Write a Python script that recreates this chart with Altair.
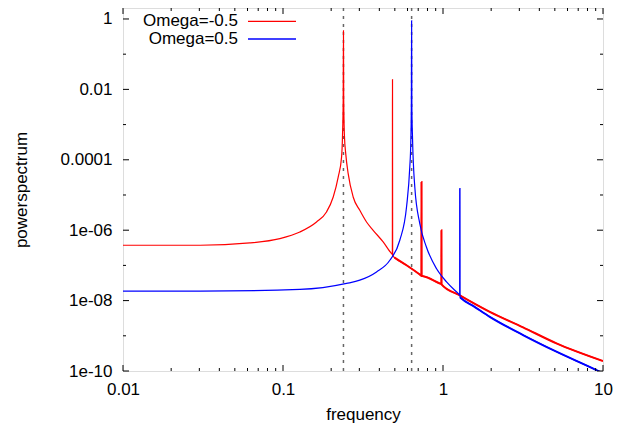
import math
import altair as alt
import pandas as pd

# ---- data ----
red_name = "Omega=-0.5"
blue_name = "Omega=0.5"

red_freq = [0.01, 0.0303, 0.0621, 0.0956, 0.1275, 0.162, 0.187, 0.206, 0.2213, 0.2323,
            0.2355, 0.2378, 0.2387, 0.2396, 0.242, 0.247, 0.2555, 0.2745, 0.302, 0.3327,
            0.366, 0.4226, 0.4768, 0.4825, 0.4835, 0.4845, 0.4976, 0.5916, 0.716, 0.733,
            0.734, 0.735, 0.751, 0.955, 0.977, 0.978, 0.979, 1.274, 1.96, 3.164, 5.117, 10.0]
red_power = [3.73e-7, 3.73e-7, 4.34e-7, 5.78e-7, 8.9e-7, 1.71e-6, 3.29e-6, 8.75e-6, 3.23e-5, 1.19e-4,
             5e-4, 5e-3, 0.466, 5e-3, 5e-4, 1.4e-4, 4.03e-5, 8.75e-6, 3.67e-6, 1.71e-6,
             9.95e-7, 4.63e-7, 2.17e-7, 2.05e-7, 0.019, 1.9e-7, 1.67e-7, 1.01e-7, 5.52e-8, 5.1e-8,
             2.33e-5, 5.0e-8, 4.94e-8, 3.07e-8, 2.95e-8, 9.95e-7, 2.9e-8, 1.41e-8, 4.8e-9, 1.74e-9, 6.1e-10, 1.92e-10]

blue_freq = [0.01, 0.0303, 0.1275, 0.2495, 0.302, 0.3842, 0.4653, 0.537, 0.5916, 0.62,
             0.629, 0.634, 0.6366, 0.639, 0.645, 0.6664, 0.716, 0.7874, 0.9095, 1.052,
             1.243, 1.271, 1.272, 1.277, 1.279, 1.305, 1.55, 1.96, 3.164, 5.117, 9.095, 10.0]
blue_power = [1.85e-8, 1.86e-8, 2.07e-8, 3.07e-8, 3.8e-8, 6.53e-8, 1.4e-7, 5.18e-7, 4.55e-6, 6.2e-5,
              3e-4, 3e-3, 0.895, 3e-3, 4e-4, 1.68e-5, 1.54e-6, 3.34e-7, 8.16e-8, 3.4e-8,
              1.6e-8, 1.45e-8, 1.51e-5, 1.51e-5, 1.25e-8, 1.14e-8, 6.97e-9, 3.47e-9, 1.05e-9, 3.53e-10, 1.06e-10, 8.6e-11]

marker_freq = [0.2387, 0.6366]

x_major = [0.01, 0.1, 1, 10]
x_labels = ["0.01", "0.1", "1", "10"]
x_minor = [m * d for d in [0.01, 0.1, 1] for m in range(2, 10)]
y_major = [1, 1e-2, 1e-4, 1e-6, 1e-8, 1e-10]
y_labels = ["1", "0.01", "0.0001", "1e-06", "1e-08", "1e-10"]
y_minor = [1e-1, 1e-3, 1e-5, 1e-7, 1e-9]

# ---- layout / style ----
W, H = 480, 363
FONT = "Liberation Sans"
FS = 17
red_c, blue_c = "#ff0000", "#0000ff"
red_thick_from, blue_thick_from = 0.4976, 1.279   # where the traces get denser / bolder

xscale = alt.Scale(type="log", domain=[0.01, 10], nice=False)
yscale = alt.Scale(type="log", domain=[1e-10, 2.05], nice=False)


def label_expr(vals, labels):
    expr = "''"
    for v, l in zip(reversed(vals), reversed(labels)):
        e = round(math.log10(v))
        expr = f"round(log(datum.value)/LN10) == {e} ? '{l}' : ({expr})"
    return expr


xaxis = alt.Axis(values=x_major, labelExpr=label_expr(x_major, x_labels), ticks=False, tickSize=0,
                 domain=False, grid=False, labelFlush=False, labelOverlap=False,
                 labelFont=FONT, labelFontSize=FS, labelColor="black",
                 labelBaseline="alphabetic", labelPadding=23,
                 title="frequency", titleFont=FONT, titleFontSize=FS, titleFontWeight="normal",
                 titleColor="black", titleX=W / 2, titleY=48, titleBaseline="alphabetic",
                 titleAnchor="middle")
yaxis = alt.Axis(values=y_major, labelExpr=label_expr(y_major, y_labels), ticks=False, tickSize=0,
                 domain=False, grid=False, labelFlush=False, labelOverlap=False,
                 labelFont=FONT, labelFontSize=FS, labelColor="black",
                 labelBaseline="middle", labelPadding=11,
                 title="powerspectrum", titleFont=FONT, titleFontSize=FS, titleFontWeight="normal",
                 titleColor="black", titleX=-97, titleY=H / 2, titleBaseline="alphabetic",
                 titleAngle=-90, titleAlign="center")

X = lambda f: alt.X(f, scale=xscale, axis=xaxis)
Y = lambda f: alt.Y(f, scale=yscale, axis=yaxis)

red_df = pd.DataFrame({"f": red_freq, "p": red_power})
blue_df = pd.DataFrame({"f": blue_freq, "p": blue_power})

markers = alt.Chart(pd.DataFrame({"f": marker_freq})).mark_rule(
    color="#666666", strokeDash=[3, 5], strokeWidth=1.5
).encode(x=X("f:Q"))


def trace(df, col, thick_from):
    thin = alt.Chart(df).mark_line(color=col, strokeWidth=1.2, clip=True,
                                   interpolate="monotone").encode(x=X("f:Q"), y=Y("p:Q"))
    bold = alt.Chart(df).transform_filter(alt.datum.f >= thick_from).mark_line(
        color=col, strokeWidth=2, clip=True, interpolate="monotone"
    ).encode(x=X("f:Q"), y=Y("p:Q"))
    return [thin, bold]


lines = trace(red_df, red_c, red_thick_from) + trace(blue_df, blue_c, blue_thick_from)


# inward tick marks on all four sides
def xticks(vals, L):
    df = pd.DataFrame({"f": vals})
    bot = alt.Chart(df).mark_rule(color="black", strokeWidth=1).encode(
        x=X("f:Q"), y=alt.value(H), y2=alt.value(H - L))
    top = alt.Chart(df).mark_rule(color="black", strokeWidth=1).encode(
        x=X("f:Q"), y=alt.value(0), y2=alt.value(L))
    return [bot, top]


def yticks(vals, L):
    df = pd.DataFrame({"p": vals})
    lef = alt.Chart(df).mark_rule(color="black", strokeWidth=1).encode(
        y=Y("p:Q"), x=alt.value(0), x2=alt.value(L))
    rig = alt.Chart(df).mark_rule(color="black", strokeWidth=1).encode(
        y=Y("p:Q"), x=alt.value(W), x2=alt.value(W - L))
    return [lef, rig]


tick_layers = xticks(x_major, 6) + xticks(x_minor, 3) + yticks(y_major, 6) + yticks(y_minor, 3)

# key (gnuplot style: text then line sample)
legend_layers = []
for name, col, yy in [(red_name, red_c, 13.3), (blue_name, blue_c, 31)]:
    ld = pd.DataFrame({"name": [name]})
    legend_layers.append(alt.Chart(ld).mark_text(
        align="right", baseline="middle", font=FONT, fontSize=FS, color="black"
    ).encode(text="name:N", x=alt.value(115), y=alt.value(yy)))
    legend_layers.append(alt.Chart(ld).mark_rule(color=col, strokeWidth=1.3).encode(
        x=alt.value(125), x2=alt.value(173), y=alt.value(yy)))

chart = alt.layer(markers, *lines, *tick_layers, *legend_layers).properties(
    width=W, height=H,
    autosize=alt.AutoSizeParams(type="none"),
    padding={"left": 115, "top": 0, "right": 11, "bottom": 53},
).configure_view(stroke="black", strokeWidth=1).configure(background="white")

chart.save("out.html", embed_options={"renderer": "svg", "actions": False})
